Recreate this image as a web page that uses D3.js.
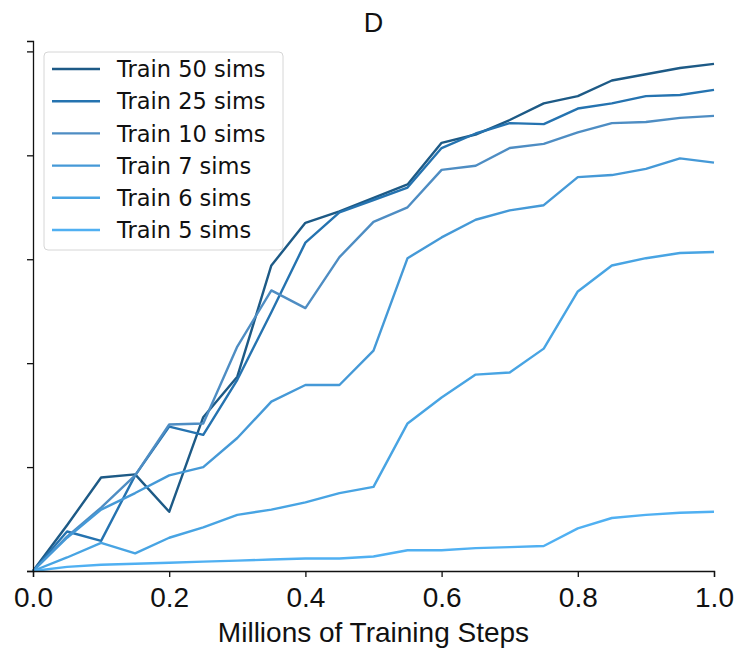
<!DOCTYPE html>
<html>
<head>
<meta charset="utf-8">
<script src="https://cdn.jsdelivr.net/npm/d3@7"></script>
<style>
  html, body { margin: 0; padding: 0; background: #fff; }
</style>
</head>
<body>
<div id="chart"></div>
<script>
// x positions (millions of steps)
const steps = [0, 0.05, 0.1, 0.15, 0.2, 0.25, 0.3, 0.35, 0.4, 0.45, 0.5,
  0.55, 0.6, 0.65, 0.7, 0.75, 0.8, 0.85, 0.9, 0.95, 1.0];

const seriesNames = ["Train 50 sims", "Train 25 sims", "Train 10 sims",
  "Train 7 sims", "Train 6 sims", "Train 5 sims"];

const seriesColors = ["#1d5a86", "#2573b0", "#4e8dc3", "#4599d7", "#48a4e3", "#50b0f2"];

const train50 = [0, 0.44, 0.90, 0.93, 0.57, 1.48, 1.87, 2.94, 3.35, 3.46, 3.59,
  3.72, 4.12, 4.20, 4.34, 4.50, 4.57, 4.72, 4.78, 4.84, 4.88];
const train25 = [0, 0.38, 0.29, 0.92, 1.39, 1.31, 1.84, 2.49, 3.16, 3.45, 3.57,
  3.69, 4.07, 4.21, 4.31, 4.30, 4.45, 4.50, 4.57, 4.58, 4.63];
const train10 = [0, 0.33, 0.61, 0.92, 1.41, 1.42, 2.16, 2.70, 2.53, 3.02, 3.36,
  3.50, 3.86, 3.90, 4.07, 4.11, 4.22, 4.31, 4.32, 4.36, 4.38];
const train7 = [0, 0.32, 0.59, 0.75, 0.92, 1.00, 1.28, 1.63, 1.79, 1.79, 2.12,
  3.01, 3.21, 3.38, 3.47, 3.52, 3.79, 3.81, 3.87, 3.97, 3.93];
const train6 = [0, 0.13, 0.27, 0.17, 0.32, 0.42, 0.54, 0.59, 0.66, 0.75, 0.81,
  1.42, 1.67, 1.89, 1.91, 2.14, 2.69, 2.94, 3.01, 3.06, 3.07];
const train5 = [0, 0.04, 0.06, 0.07, 0.08, 0.09, 0.10, 0.11, 0.12, 0.12, 0.14,
  0.20, 0.20, 0.22, 0.23, 0.24, 0.41, 0.51, 0.54, 0.56, 0.57];

const seriesValues = [train50, train25, train10, train7, train6, train5];

const xTicks = [0, 0.2, 0.4, 0.6, 0.8, 1.0];
const yTicks = [0, 1, 2, 3, 4, 5];

const width = 736, height = 648;
const margin = { left: 33, right: 22, top: 41, bottom: 77 };

const svg = d3.select("#chart").append("svg")
  .attr("width", width)
  .attr("height", height);

const x = d3.scaleLinear().domain([0, 1]).range([margin.left, width - margin.right]);
const y = d3.scaleLinear().domain([0, 5.1]).range([height - margin.bottom, margin.top]);

// Title
svg.append("text")
  .attr("x", (margin.left + width - margin.right) / 2)
  .attr("y", 32)
  .attr("text-anchor", "middle")
  .attr("font-family", "Liberation Sans, Arial, sans-serif")
  .attr("font-size", "27px")
  .attr("fill", "#111")
  .text("D");

// Lines
const line = d3.line()
  .x((d, i) => x(steps[i]))
  .y(d => y(d));

seriesValues.forEach((vals, k) => {
  svg.append("path")
    .datum(vals)
    .attr("fill", "none")
    .attr("stroke", seriesColors[k])
    .attr("stroke-width", 2.4)
    .attr("stroke-linejoin", "round")
    .attr("d", line);
});

// X axis
const xAxis = svg.append("g")
  .attr("transform", `translate(0, ${height - margin.bottom})`)
  .call(d3.axisBottom(x).tickValues(xTicks).tickFormat(d3.format(".1f")).tickSizeOuter(0).tickSize(6));
xAxis.select(".domain").attr("stroke", "#111").attr("stroke-width", 1.3);
xAxis.selectAll(".tick line").attr("stroke", "#111").attr("stroke-width", 1.3);
xAxis.selectAll(".tick text")
  .attr("font-family", "Liberation Sans, Arial, sans-serif")
  .attr("font-size", "28px")
  .attr("fill", "#111")
  .attr("y", 6)
  .attr("dy", "1.08em");

// Y axis (ticks, no labels)
const yAxis = svg.append("g")
  .attr("transform", `translate(${margin.left}, 0)`)
  .call(d3.axisLeft(y).tickValues(yTicks).tickFormat("").tickSizeOuter(0).tickSize(6));
yAxis.select(".domain").attr("stroke", "#111").attr("stroke-width", 1.3);
yAxis.selectAll(".tick line").attr("stroke", "#111").attr("stroke-width", 1.3);

// X label
svg.append("text")
  .attr("x", (margin.left + width - margin.right) / 2)
  .attr("y", 642)
  .attr("text-anchor", "middle")
  .attr("font-family", "Liberation Sans, Arial, sans-serif")
  .attr("font-size", "28px")
  .attr("fill", "#111")
  .text("Millions of Training Steps");

// Legend
const legend = svg.append("g").attr("transform", "translate(44, 52)");
legend.append("rect")
  .attr("width", 239)
  .attr("height", 198)
  .attr("rx", 4)
  .attr("fill", "#fff")
  .attr("fill-opacity", 0.85)
  .attr("stroke", "#d6d6d6")
  .attr("stroke-width", 1);

seriesNames.forEach((name, k) => {
  const rowY = 17 + k * 32.2;
  legend.append("line")
    .attr("x1", 8).attr("x2", 56)
    .attr("y1", rowY).attr("y2", rowY)
    .attr("stroke", seriesColors[k])
    .attr("stroke-width", 2.4);
  legend.append("text")
    .attr("x", 73)
    .attr("y", rowY)
    .attr("dy", "0.36em")
    .attr("font-family", "DejaVu Sans, sans-serif")
    .attr("font-size", "22.5px")
    .attr("fill", "#111")
    .text(name);
});
</script>
</body>
</html>
